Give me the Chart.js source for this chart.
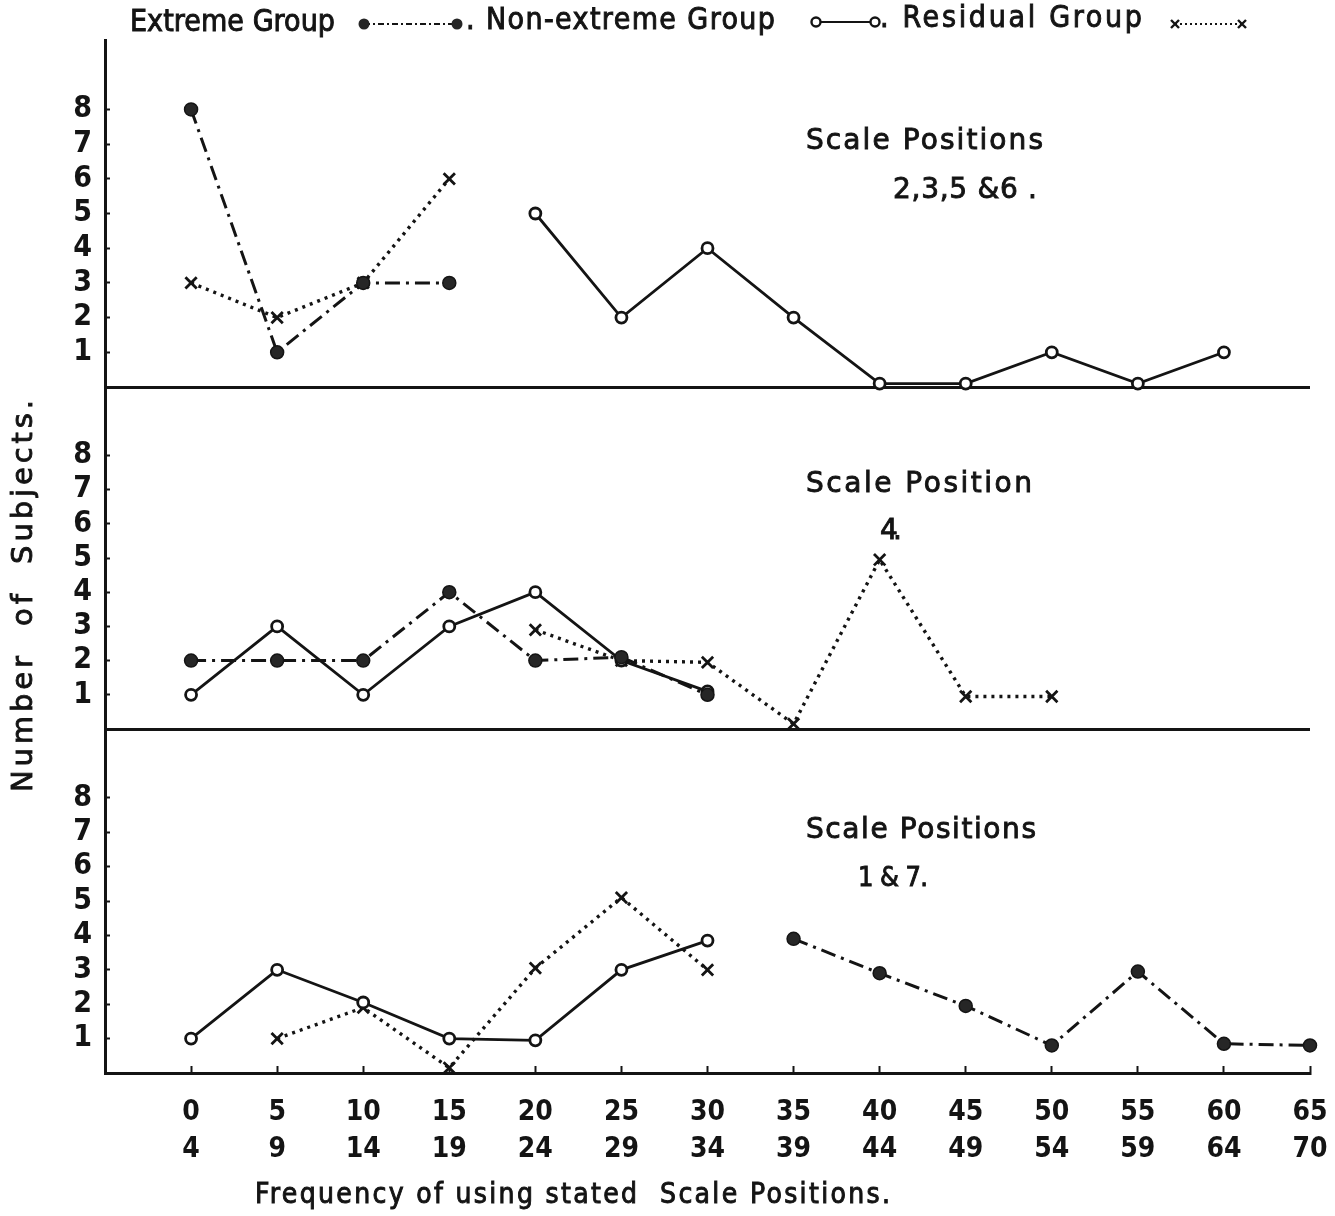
<!DOCTYPE html>
<html>
<head>
<meta charset="utf-8">
<title>Frequency of using stated Scale Positions</title>
<script src="https://cdn.jsdelivr.net/npm/chart.js@4.4.1/dist/chart.umd.min.js"></script>
<style>
  html, body { margin: 0; padding: 0; background: #fff; }
</style>
</head>
<body>
<canvas id="scaleChart" width="1335" height="1216"></canvas>
<script>
// frequency bins on the x axis (lower and upper bound of each bin)
const binFrom = ['0', '5', '10', '15', '20', '25', '30', '35', '40', '45', '50', '55', '60', '65'];
const binTo   = ['4', '9', '14', '19', '24', '29', '34', '39', '44', '49', '54', '59', '64', '70'];
const yTicks  = [1, 2, 3, 4, 5, 6, 7, 8];

// Scale Positions 2,3,5 & 6
const extremeTop    = [8, 1, 3, 3, null, null, null, null, null, null, null, null, null, null];
const nonExtremeTop = [null, null, null, null, 5, 2, 4, 2, 0.1, 0.1, 1, 0.1, 1, null];
const residualTop   = [3, 2, 3, 6, null, null, null, null, null, null, null, null, null, null];

// Scale Position 4
const extremeMid    = [2, 2, 2, 4, 2, 2.1, 1, null, null, null, null, null, null, null];
const nonExtremeMid = [1, 3, 1, 3, 4, 2, 1.1, null, null, null, null, null, null, null];
const residualMid   = [null, null, null, null, 2.9, 2, 1.95, 0.15, 4.95, 0.95, 0.95, null, null, null];

// Scale Positions 1 & 7
const extremeLow    = [null, null, null, null, null, null, null, 3.9, 2.9, 1.95, 0.8, 2.95, 0.85, 0.8];
const nonExtremeLow = [1, 3, 2.05, 1, 0.95, 3, 3.85, null, null, null, null, null, null, null];
const residualLow   = [null, 1, 1.9, 0.15, 3.05, 5.1, 3, null, null, null, null, null, null, null];

const ink = '#141414';
const tickFont = "'DejaVu Sans Condensed', 'DejaVu Sans', sans-serif";
const textFont = "'DejaVu Sans', sans-serif";
const narrowFont = "'DejaVu Sans Condensed', 'DejaVu Sans', sans-serif";

const toPoints = arr => arr.map((v, i) => ({ x: i, y: v }));

function extremeSet(label, values, axis) {
    return {
        label: label, data: toPoints(values), yAxisID: axis,
        borderColor: ink, borderWidth: 3, borderDash: [15, 6, 3, 6],
        pointStyle: 'circle', pointRadius: 6.5, pointBackgroundColor: '#262626',
        pointBorderColor: ink, pointBorderWidth: 1.5, clip: false
    };
}

function nonExtremeSet(label, values, axis) {
    return {
        label: label, data: toPoints(values), yAxisID: axis,
        borderColor: ink, borderWidth: 2.8,
        pointStyle: 'circle', pointRadius: 5.5, pointBackgroundColor: '#fff',
        pointBorderColor: ink, pointBorderWidth: 2.8, clip: false
    };
}

function residualSet(label, values, axis) {
    return {
        label: label, data: toPoints(values), yAxisID: axis,
        borderColor: ink, borderWidth: 3.4, borderDash: [3, 5],
        pointStyle: 'crossRot', pointRadius: 8, pointBorderColor: ink,
        pointBorderWidth: 2.8, clip: false
    };
}

function panelScale(weight, stackWeight) {
    return {
        type: 'linear', position: 'left', stack: 'panels',
        weight: weight, stackWeight: stackWeight,
        min: 0, max: 10,
        afterBuildTicks: s => { s.ticks = [0].concat(yTicks).map(v => ({ value: v })); },
        afterFit: s => { s.width = 105; },
        ticks: {
            color: ink, padding: 18, autoSkip: false,
            font: { family: tickFont, size: 30, weight: 'bold' },
            callback: v => v === 0 ? '' : String(v)
        },
        grid: {
            drawOnChartArea: true,
            color: c => c.tick && c.tick.value === 0 ? ink : 'rgba(0,0,0,0)',
            lineWidth: 3,
            tickColor: c => c.tick && c.tick.value === 0 ? 'rgba(0,0,0,0)' : ink,
            tickLength: -5, tickWidth: 2
        },
        border: { display: true, color: ink, width: 3 }
    };
}

// draws text so that it spans the given width, slightly heavier than the plain font
function spacedText(ctx, text, x, y, width) {
    ctx.letterSpacing = '0px';
    const w = ctx.measureText(text).width;
    const extra = text.length > 1 ? (width - w) / (text.length - 1) : 0;
    ctx.letterSpacing = extra + 'px';
    ctx.textAlign = 'left';
    ctx.lineWidth = 0.9;
    ctx.fillText(text, x, y);
    ctx.strokeText(text, x, y);
    ctx.letterSpacing = '0px';
}

function dot(ctx, x, y) {
    ctx.beginPath(); ctx.arc(x, y, 5.5, 0, Math.PI * 2);
    ctx.fillStyle = '#262626'; ctx.fill();
}
function ring(ctx, x, y) {
    ctx.beginPath(); ctx.arc(x, y, 4.5, 0, Math.PI * 2);
    ctx.fillStyle = '#fff'; ctx.fill();
    ctx.lineWidth = 2.4; ctx.stroke();
}
function cross(ctx, x, y) {
    ctx.lineWidth = 2.4;
    ctx.beginPath();
    ctx.moveTo(x - 4, y - 4); ctx.lineTo(x + 4, y + 4);
    ctx.moveTo(x + 4, y - 4); ctx.lineTo(x - 4, y + 4);
    ctx.stroke();
}

function sample(ctx, x1, x2, y, dash, lw, marker) {
    ctx.save();
    ctx.strokeStyle = ink; ctx.lineWidth = lw; ctx.setLineDash(dash);
    ctx.beginPath(); ctx.moveTo(x1, y); ctx.lineTo(x2, y); ctx.stroke();
    ctx.setLineDash([]);
    marker(ctx, x1, y); marker(ctx, x2, y);
    ctx.restore();
}

const annotations = {
    id: 'annotations',
    afterDraw(chart) {
        const ctx = chart.ctx;
        ctx.save();
        ctx.fillStyle = ink;
        ctx.strokeStyle = ink;
        ctx.textBaseline = 'middle';

        // legend line across the top
        ctx.font = '30px ' + narrowFont;
        spacedText(ctx, 'Extreme Group', 130, 23, 205);
        spacedText(ctx, '. Non-extreme Group', 466, 21, 309);
        spacedText(ctx, '. Residual Group', 880, 19, 262);
        sample(ctx, 364, 457, 24, [6, 3, 2, 3], 1.8, dot);
        sample(ctx, 816, 875, 22, [], 2.2, ring);
        sample(ctx, 1175, 1242, 24, [2, 3], 2, cross);

        // panel captions
        ctx.font = '28px ' + textFont;
        spacedText(ctx, 'Scale Positions', 806, 142, 237);
        spacedText(ctx, '2,3,5 &6 .', 893, 191, 144);
        spacedText(ctx, 'Scale Position', 806, 485, 226);
        spacedText(ctx, '4.', 880, 532, 22);
        spacedText(ctx, 'Scale Positions', 806, 831, 230);
        ctx.font = '27px ' + narrowFont;
        spacedText(ctx, '1 & 7.', 858, 879, 70);

        // axis titles
        ctx.font = '28px ' + narrowFont;
        spacedText(ctx, 'Frequency of using stated  Scale Positions.', 255, 1196, 635);
        ctx.font = '29px ' + textFont;
        ctx.translate(24, 596);
        ctx.rotate(-Math.PI / 2);
        spacedText(ctx, 'Number  of  Subjects.', -196, 0, 392);
        ctx.restore();
    }
};

const ctx = document.getElementById('scaleChart').getContext('2d');

new Chart(ctx, {
    type: 'line',
    data: {
        datasets: [
            extremeSet('Extreme Group: Scale Positions 2,3,5 & 6', extremeTop, 'yTop'),
            nonExtremeSet('Non-extreme Group: Scale Positions 2,3,5 & 6', nonExtremeTop, 'yTop'),
            residualSet('Residual Group: Scale Positions 2,3,5 & 6', residualTop, 'yTop'),
            extremeSet('Extreme Group: Scale Position 4', extremeMid, 'yMid'),
            nonExtremeSet('Non-extreme Group: Scale Position 4', nonExtremeMid, 'yMid'),
            residualSet('Residual Group: Scale Position 4', residualMid, 'yMid'),
            extremeSet('Extreme Group: Scale Positions 1 & 7', extremeLow, 'yLow'),
            nonExtremeSet('Non-extreme Group: Scale Positions 1 & 7', nonExtremeLow, 'yLow'),
            residualSet('Residual Group: Scale Positions 1 & 7', residualLow, 'yLow')
        ]
    },
    options: {
        responsive: false,
        animation: false,
        spanGaps: false,
        layout: { padding: { top: 40, right: 25, left: 0, bottom: 0 } },
        plugins: {
            legend: { display: false },
            tooltip: { enabled: false }
        },
        scales: {
            x: {
                type: 'linear', min: -1, max: 13,
                afterBuildTicks: s => { s.ticks = binFrom.map((_, i) => ({ value: i })); },
                afterFit: s => { s.height = 143; s.paddingLeft = 0; s.paddingRight = 0; },
                ticks: {
                    color: ink, padding: 28, autoSkip: false, maxRotation: 0,
                    font: { family: tickFont, size: 28, weight: 'bold', lineHeight: '37px' },
                    callback: v => [binFrom[v], binTo[v]]
                },
                grid: {
                    drawOnChartArea: false, color: ink,
                    tickLength: -7, tickWidth: 2
                },
                border: { display: true, color: ink, width: 3 }
            },
            yTop: panelScale(3, 347),
            yMid: panelScale(2, 342),
            yLow: panelScale(1, 344)
        }
    },
    plugins: [annotations]
});
</script>
</body>
</html>
